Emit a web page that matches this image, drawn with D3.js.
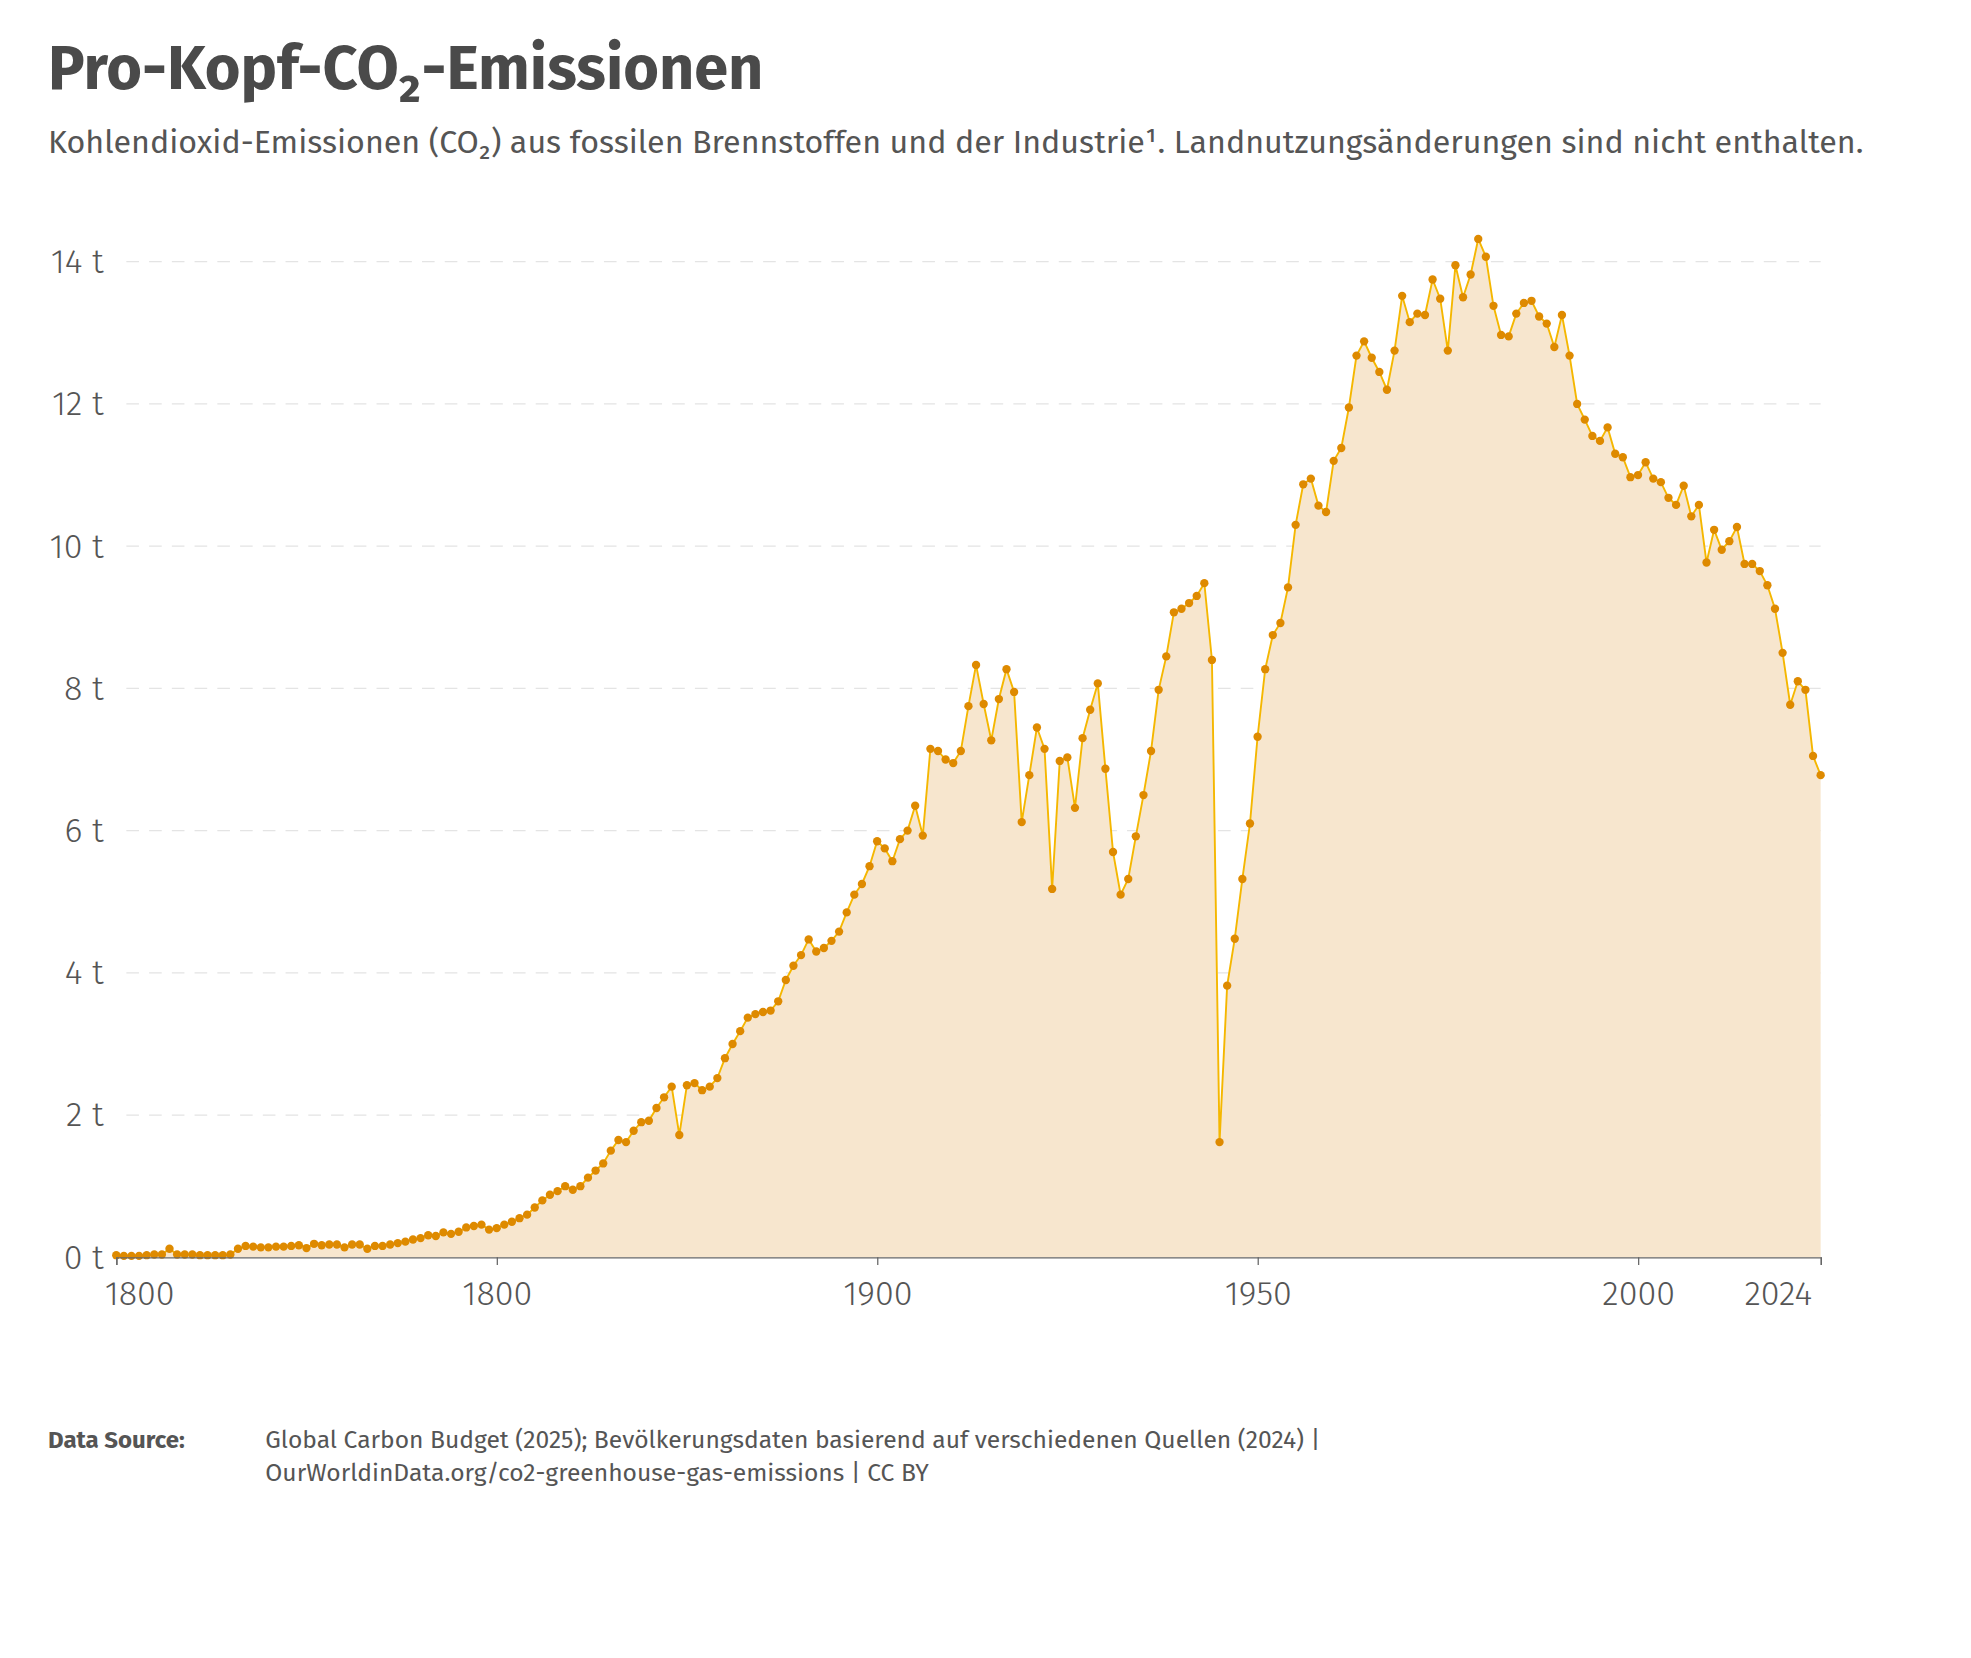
<!DOCTYPE html>
<html><head><meta charset="utf-8">
<script src="https://cdn.jsdelivr.net/npm/d3@7"></script>
<style>body{margin:0;background:#fff}svg{display:block}</style></head>
<body><svg id="c" width="1971" height="1658" viewBox="0 0 1560 1312"></svg>
<script>
const startYear = 1800;
const values = [
0.03,0.02,0.02,0.02,0.03,0.04,0.04,0.12,0.04,0.04,
0.04,0.03,0.03,0.03,0.03,0.04,0.12,0.16,0.15,0.14,
0.14,0.15,0.15,0.16,0.17,0.13,0.19,0.17,0.18,0.18,
0.14,0.18,0.18,0.12,0.16,0.16,0.18,0.2,0.22,0.25,
0.27,0.31,0.3,0.35,0.33,0.36,0.42,0.44,0.46,0.39,
0.41,0.46,0.5,0.55,0.6,0.7,0.8,0.88,0.93,1.0,
0.95,1.0,1.12,1.22,1.32,1.5,1.65,1.62,1.78,1.9,
1.92,2.1,2.25,2.4,1.72,2.42,2.45,2.35,2.4,2.52,
2.8,3.0,3.18,3.37,3.42,3.45,3.47,3.6,3.9,4.1,
4.25,4.47,4.3,4.35,4.45,4.58,4.85,5.1,5.25,5.5,
5.85,5.75,5.57,5.88,6.0,6.35,5.93,7.15,7.12,7.0,
6.95,7.12,7.75,8.33,7.78,7.27,7.85,8.27,7.95,6.12,
6.78,7.45,7.15,5.18,6.98,7.03,6.32,7.3,7.7,8.07,
6.87,5.7,5.1,5.32,5.92,6.5,7.12,7.98,8.45,9.07,
9.12,9.2,9.3,9.48,8.4,1.62,3.82,4.48,5.32,6.1,
7.32,8.27,8.75,8.92,9.42,10.3,10.87,10.95,10.57,10.48,
11.2,11.38,11.95,12.68,12.88,12.65,12.45,12.2,12.75,13.52,
13.15,13.27,13.25,13.75,13.48,12.75,13.95,13.5,13.82,14.32,
14.07,13.38,12.97,12.95,13.27,13.42,13.45,13.23,13.13,12.8,
13.25,12.68,12.0,11.78,11.55,11.48,11.67,11.3,11.25,10.97,
11.0,11.18,10.95,10.9,10.68,10.58,10.85,10.42,10.58,9.77,
10.23,9.95,10.07,10.27,9.75,9.75,9.65,9.45,9.12,8.5,
7.77,8.1,7.98,7.05,6.78];
const years = values.map((v,i)=>startYear+i);
const yTicks = [0,2,4,6,8,10,12,14];
const xTicks = [1800,1850,1900,1950,2000,2024];
const xTickLabels = ["1800","1800","1900","1950","2000","2024"];
const data = years.map((y,i)=>({year:y,value:values[i]}));

const svg = d3.select("#c");
const font = "'Fira Sans','Roboto','Open Sans',sans-serif";
const x = d3.scaleLinear().domain([1800,2024]).range([92,1441]);
const y = d3.scaleLinear().domain([0,14]).range([995,207]);

svg.append("text").attr("x",38).attr("y",70).attr("font-family",font).attr("font-weight",700)
  .attr("font-size",48.5).attr("fill","#4a4a4a").text("Pro-Kopf-CO₂-Emissionen");
svg.append("text").attr("x",38).attr("y",121).attr("font-family",font)
  .attr("font-size",25.5).attr("fill","#555").text("Kohlendioxid-Emissionen (CO₂) aus fossilen Brennstoffen und der Industrie¹. Landnutzungsänderungen sind nicht enthalten.");

// grid
svg.append("g").selectAll("line").data(yTicks.filter(d=>d>0)).join("line")
  .attr("x1",100).attr("x2",1441).attr("y1",d=>y(d)).attr("y2",d=>y(d))
  .attr("stroke","#e4e4e4").attr("stroke-dasharray","10,8");
svg.append("g").selectAll("text").data(yTicks).join("text")
  .attr("x",82).attr("y",d=>y(d)+9).attr("text-anchor","end")
  .attr("font-family",font).attr("font-size",27).attr("font-weight",300).attr("fill","#555")
  .text(d=>d+" t");

svg.append("path").datum(data).attr("fill","#f7e6ce")
  .attr("d",d3.area().x(d=>x(d.year)).y0(y(0)).y1(d=>y(d.value)));
svg.append("path").datum(data).attr("fill","none").attr("stroke","#f5b700").attr("stroke-width",1.5)
  .attr("d",d3.line().x(d=>x(d.year)).y(d=>y(d.value)));
svg.append("g").selectAll("circle").data(data).join("circle")
  .attr("cx",d=>x(d.year)).attr("cy",d=>y(d.value)).attr("r",3.3).attr("fill","#de8a00");

const ax = svg.append("g").attr("transform","translate(0,995)")
  .call(d3.axisBottom(x).tickValues(xTicks).tickSize(6).tickFormat((d,i)=>xTickLabels[i]));
ax.select(".domain").attr("stroke","#666");
ax.selectAll(".tick line").attr("stroke","#666");
ax.selectAll(".tick text").attr("font-family",font).attr("font-size",27).attr("font-weight",300)
  .attr("fill","#555").attr("dy","1.05em").attr("dx",(d,i)=>i===0?18:(i===5?-34:0));

svg.append("text").attr("x",38).attr("y",1146).attr("font-family",font).attr("font-weight",700)
  .attr("font-size",19).attr("fill","#555").text("Data Source:");
svg.append("text").attr("x",210).attr("y",1146).attr("font-family",font)
  .attr("font-size",19.5).attr("fill","#555").text("Global Carbon Budget (2025); Bevölkerungsdaten basierend auf verschiedenen Quellen (2024) |");
svg.append("text").attr("x",210).attr("y",1172).attr("font-family",font)
  .attr("font-size",19.5).attr("fill","#555").text("OurWorldinData.org/co2-greenhouse-gas-emissions | CC BY");
</script></body></html>
